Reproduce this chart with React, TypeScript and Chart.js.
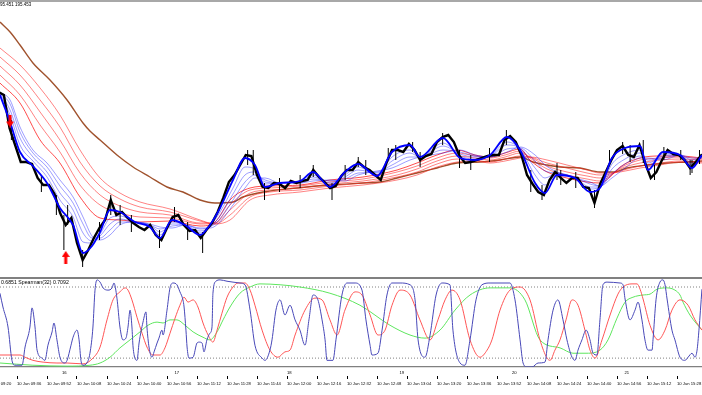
import React, { useEffect, useRef } from "react";
import { Chart, registerables } from "chart.js";

Chart.register(...registerables);

// ---------------- texts & ticks ----------------
const headerText = "95.451 195.453";
const oscLabel = "0.6851 Spearman(32) 0.7092";

const timeTickMinutes = [0, 16, 32, 48, 64, 80, 96, 112, 128, 144, 160, 176, 192, 208, 224, 240, 256, 272, 288, 304, 320, 336, 352, 368];
const timeTickLabels = [
  "10 Jun 09:20", "10 Jun 09:36", "10 Jun 09:52", "10 Jun 10:08", "10 Jun 10:24", "10 Jun 10:40",
  "10 Jun 10:56", "10 Jun 11:12", "10 Jun 11:28", "10 Jun 11:44", "10 Jun 12:00", "10 Jun 12:16",
  "10 Jun 12:32", "10 Jun 12:48", "10 Jun 13:04", "10 Jun 13:20", "10 Jun 13:36", "10 Jun 13:52",
  "10 Jun 14:08", "10 Jun 14:24", "10 Jun 14:40", "10 Jun 14:56", "10 Jun 15:12", "10 Jun 15:28",
];
const hourTickMinutes = [40, 100, 160, 220, 280, 340];
const hourTickLabels = ["16", "17", "18", "19", "20", "21"];

// ---------------- price (1-minute bars, minutes after 09:20) ----------------
const closeStartMinute = 6;
const closeStepMinutes = 3;
const closes = [
  195.540, 195.525, 195.360, 195.275, 195.190, 195.190, 195.180, 195.110, 195.075, 195.075,
  195.030, 194.935, 194.875, 194.910, 194.785, 194.700, 194.750, 194.810, 194.860, 194.900,
  195.000, 194.925, 194.940, 194.910, 194.885, 194.865, 194.850, 194.875, 194.825, 194.800,
  194.860, 194.915, 194.925, 194.875, 194.845, 194.850, 194.810, 194.850, 194.885, 194.940,
  195.010, 195.090, 195.125, 195.175, 195.225, 195.220, 195.125, 195.065, 195.060, 195.085,
  195.080, 195.060, 195.095, 195.085, 195.095, 195.100, 195.150, 195.115, 195.090, 195.060,
  195.070, 195.120, 195.150, 195.150, 195.190, 195.165, 195.150, 195.125, 195.100, 195.185,
  195.250, 195.250, 195.240, 195.280, 195.250, 195.200, 195.220, 195.230, 195.290, 195.315,
  195.325, 195.290, 195.220, 195.185, 195.190, 195.200, 195.210, 195.220, 195.225, 195.225,
  195.300, 195.320, 195.290, 195.225, 195.125, 195.080, 195.040, 195.025, 195.100, 195.140,
  195.110, 195.085, 195.110, 195.110, 195.065, 195.060, 194.985, 195.080, 195.140, 195.200,
  195.250, 195.270, 195.225, 195.215, 195.275, 195.185, 195.110, 195.140, 195.200, 195.250,
  195.230, 195.225, 195.200, 195.160, 195.190, 195.225, 195.230,
];
// [minute, low, high]
const wicks = [
  [13, 195.300, 195.400], [29, 195.040, 195.125], [37, 194.925, 195.025], [41, 194.750, 194.925],
  [43, 194.875, 194.975], [51, 194.665, 194.750], [60, 194.800, 194.890], [66, 194.925, 195.025],
  [71, 194.875, 194.975], [77, 194.840, 194.925], [92, 194.760, 194.850], [100, 194.890, 194.965],
  [107, 194.800, 194.890], [115, 194.735, 194.840], [139, 195.175, 195.250], [142, 195.125, 195.250],
  [148, 195.000, 195.085], [156, 195.040, 195.110], [167, 195.060, 195.125], [174, 195.115, 195.175],
  [184, 195.000, 195.085], [191, 195.100, 195.175], [198, 195.165, 195.215], [202, 195.125, 195.200],
  [214, 195.200, 195.260], [218, 195.200, 195.275], [227, 195.240, 195.290], [231, 195.165, 195.240],
  [243, 195.275, 195.335], [252, 195.160, 195.250], [258, 195.150, 195.225], [268, 195.190, 195.260],
  [277, 195.275, 195.350], [290, 195.040, 195.150], [296, 195.000, 195.075], [304, 195.100, 195.185],
  [306, 195.075, 195.150], [314, 195.060, 195.140], [324, 194.960, 195.050], [332, 195.175, 195.250],
  [339, 195.230, 195.290], [343, 195.190, 195.275], [350, 195.185, 195.300], [356, 195.100, 195.175],
  [361, 195.200, 195.265], [370, 195.200, 195.250], [375, 195.125, 195.200], [376, 195.135, 195.200],
  [380, 195.180, 195.250],
];

// ---------------- long moving average (brown) ----------------
const brownX = [6.9, 12.3, 17.6, 24.5, 33.6, 42.7, 51.2, 54.9, 60.3, 69.3, 77.9, 86.9, 96, 104.5, 113.6, 121.6, 131.2, 136.5, 147.2, 165.3, 182.9, 200.5, 209.6, 218.7, 229.3, 240, 250.7, 262.9, 273.6, 284.3, 291.2, 298.7, 305.6, 316.3, 326.9, 333.9, 341.3, 352, 362.7, 373.3, 381.3];
const brownY = [195.890, 195.840, 195.775, 195.685, 195.600, 195.500, 195.385, 195.345, 195.300, 195.225, 195.165, 195.115, 195.065, 195.040, 195.000, 194.985, 194.990, 195.015, 195.040, 195.060, 195.075, 195.085, 195.090, 195.110, 195.135, 195.160, 195.185, 195.190, 195.200, 195.215, 195.190, 195.175, 195.165, 195.160, 195.140, 195.140, 195.160, 195.175, 195.185, 195.190, 195.195];

// ---------------- slow ribbon (red) ----------------
const redX = [6.9, 17.6, 28.3, 38.9, 49.6, 60.3, 70.9, 81.6, 97.6, 113.6, 121.6, 129.6, 140.3, 150.9, 166.9, 182.9, 200.5, 218.7, 229.3, 240, 250.7, 260.3, 268.3, 276.3, 284.3, 289.6, 298.7, 309.3, 320, 326.9, 332.3, 337.6, 348.3, 358.9, 369.6, 381.3];
const red1 = [195.585, 195.485, 195.300, 195.185, 195.015, 194.910, 194.900, 194.890, 194.895, 194.870, 194.890, 195.000, 195.060, 195.070, 195.075, 195.100, 195.115, 195.150, 195.185, 195.225, 195.250, 195.225, 195.215, 195.235, 195.255, 195.200, 195.140, 195.110, 195.090, 195.085, 195.115, 195.165, 195.210, 195.220, 195.220, 195.210];
const red2 = [195.625, 195.525, 195.375, 195.240, 195.075, 194.975, 194.935, 194.915, 194.910, 194.880, 194.885, 194.975, 195.050, 195.060, 195.070, 195.090, 195.105, 195.140, 195.170, 195.210, 195.235, 195.220, 195.210, 195.225, 195.245, 195.210, 195.155, 195.125, 195.105, 195.095, 195.120, 195.160, 195.200, 195.210, 195.215, 195.205];
const red3 = [195.670, 195.575, 195.440, 195.300, 195.135, 195.025, 194.970, 194.940, 194.925, 194.885, 194.885, 194.950, 195.035, 195.050, 195.060, 195.080, 195.095, 195.125, 195.155, 195.195, 195.220, 195.210, 195.200, 195.215, 195.235, 195.215, 195.170, 195.140, 195.120, 195.110, 195.125, 195.155, 195.185, 195.200, 195.205, 195.200];
const red4 = [195.715, 195.625, 195.500, 195.365, 195.190, 195.070, 195.005, 194.965, 194.940, 194.895, 194.880, 194.925, 195.015, 195.040, 195.050, 195.070, 195.085, 195.115, 195.140, 195.180, 195.205, 195.200, 195.190, 195.205, 195.220, 195.215, 195.185, 195.160, 195.135, 195.125, 195.130, 195.145, 195.170, 195.185, 195.195, 195.190];
const red5 = [195.760, 195.675, 195.560, 195.425, 195.250, 195.110, 195.035, 194.990, 194.955, 194.900, 194.880, 194.900, 195.000, 195.025, 195.040, 195.060, 195.075, 195.100, 195.125, 195.165, 195.190, 195.195, 195.185, 195.195, 195.210, 195.215, 195.200, 195.175, 195.150, 195.135, 195.135, 195.140, 195.160, 195.175, 195.190, 195.185];

// ---------------- fast ribbon (blue) ----------------
const blueX = [6.9, 12.3, 17.6, 24.5, 32, 38.9, 45.9, 51.2, 56, 60.3, 65.6, 70.9, 78.9, 86.9, 92.3, 98.7, 105.6, 113.6, 118.9, 124.3, 131.2, 137.6, 142.9, 148.3, 156.3, 166.9, 173.9, 182.9, 190.9, 197.9, 208, 216, 225.6, 230.9, 243.2, 252.3, 260.3, 268.3, 277.3, 284.3, 292.3, 297.6, 304, 313.6, 321.6, 326.9, 333.3, 340.3, 348.3, 352.5, 360.5, 369.6, 376, 381.3];
const blue0 = [195.525, 195.390, 195.240, 195.170, 195.085, 194.960, 194.875, 194.735, 194.770, 194.840, 194.950, 194.940, 194.890, 194.865, 194.810, 194.900, 194.875, 194.825, 194.875, 194.960, 195.100, 195.210, 195.175, 195.065, 195.085, 195.095, 195.140, 195.065, 195.140, 195.180, 195.120, 195.240, 195.275, 195.215, 195.310, 195.210, 195.200, 195.225, 195.315, 195.250, 195.085, 195.035, 195.125, 195.110, 195.040, 195.060, 195.210, 195.260, 195.270, 195.150, 195.240, 195.225, 195.160, 195.225];
const blue1 = [195.530, 195.425, 195.275, 195.195, 195.115, 195.000, 194.915, 194.790, 194.785, 194.830, 194.910, 194.920, 194.890, 194.870, 194.825, 194.890, 194.875, 194.835, 194.870, 194.940, 195.060, 195.165, 195.155, 195.080, 195.085, 195.090, 195.125, 195.075, 195.125, 195.165, 195.125, 195.215, 195.250, 195.215, 195.285, 195.220, 195.205, 195.220, 195.290, 195.255, 195.125, 195.075, 195.130, 195.110, 195.055, 195.065, 195.180, 195.230, 195.250, 195.170, 195.230, 195.225, 195.175, 195.220];
const blue2 = [195.535, 195.450, 195.310, 195.215, 195.140, 195.035, 194.950, 194.835, 194.795, 194.820, 194.880, 194.905, 194.890, 194.875, 194.840, 194.880, 194.875, 194.845, 194.865, 194.920, 195.030, 195.125, 195.140, 195.090, 195.085, 195.090, 195.115, 195.085, 195.115, 195.150, 195.135, 195.195, 195.235, 195.215, 195.270, 195.230, 195.215, 195.220, 195.275, 195.260, 195.160, 195.110, 195.135, 195.110, 195.065, 195.065, 195.155, 195.205, 195.235, 195.185, 195.220, 195.225, 195.185, 195.215];
const blue3 = [195.535, 195.480, 195.340, 195.235, 195.165, 195.070, 194.985, 194.880, 194.810, 194.810, 194.850, 194.890, 194.890, 194.875, 194.855, 194.870, 194.875, 194.855, 194.865, 194.905, 195.000, 195.090, 195.125, 195.100, 195.085, 195.085, 195.105, 195.095, 195.105, 195.135, 195.140, 195.175, 195.215, 195.215, 195.250, 195.240, 195.220, 195.215, 195.255, 195.260, 195.195, 195.145, 195.135, 195.110, 195.080, 195.070, 195.130, 195.180, 195.220, 195.200, 195.210, 195.225, 195.200, 195.215];
const blue4 = [195.540, 195.500, 195.365, 195.250, 195.185, 195.100, 195.015, 194.915, 194.820, 194.800, 194.825, 194.875, 194.890, 194.880, 194.865, 194.860, 194.875, 194.860, 194.860, 194.890, 194.975, 195.060, 195.110, 195.110, 195.085, 195.085, 195.095, 195.100, 195.095, 195.125, 195.145, 195.160, 195.200, 195.215, 195.235, 195.250, 195.225, 195.215, 195.240, 195.265, 195.225, 195.175, 195.140, 195.110, 195.090, 195.070, 195.110, 195.160, 195.210, 195.210, 195.200, 195.225, 195.210, 195.210];

// ---------------- signal arrows [minute, price] ----------------
const sellArrows = [[12.3, 195.395]];
const buyArrows = [[42, 194.713]];

// ---------------- Spearman oscillator [minute, value] ----------------
const oscBlue = [
  [6.9, 0.66], [8.5, 0.35], [11.2, -0.10], [13.3, -0.85], [14.9, -0.96], [18.7, -0.96], [20.3, -0.55], [22.9, -0.10], [24, 0.33], [25.6, -0.10],
  [26.7, -0.62], [29.3, -0.80], [30.9, -0.85], [32.5, -0.51], [34.7, -0.21], [35.7, -0.01], [37.3, -0.39], [38.9, -0.78], [41.6, -0.91], [42.7, -0.85],
  [44.8, -0.51], [45.9, -0.33], [48, -0.17], [49.1, -0.39], [50.1, -0.85], [51.2, -0.96], [53.3, -0.91], [54.9, -0.69], [56.5, -0.10], [57.6, 0.73],
  [58.7, 0.96], [60.3, 0.91], [61.9, 0.78], [64.5, 0.73], [66.7, 0.78], [67.7, 0.89], [69.3, 0.55], [70.9, -0.10], [72.5, -0.39], [74.1, -0.35],
  [75.2, -0.10], [76.3, 0.28], [77.3, -0.10], [77.9, -0.55], [80, -0.85], [81.1, -0.46], [83.2, 0.01], [84.8, 0.24], [85.3, -0.10], [86.4, -0.55],
  [88, -0.78], [89.1, -0.66], [90.7, -0.46], [91.7, -0.35], [93.3, -0.17], [93.9, -0.28], [96, 0.28], [97.6, 0.78], [99.2, 0.89], [101.3, 0.85],
  [102.9, 0.69], [104.5, 0.51], [105.1, 0.35], [106.1, -0.17], [106.7, -0.55], [107.7, -0.80], [109.9, -0.78], [112, -0.46], [113.1, -0.44], [114.7, -0.46],
  [115.7, -0.66], [117.3, -0.39], [118.9, -0.24], [120, -0.10], [120.5, 0.66], [122.1, 0.93], [124.3, 0.96], [128, 0.93], [131.2, 0.91], [134.9, 0.89],
  [137.6, 0.85], [140.3, 0.28], [142.9, -0.51], [146.7, -0.80], [148.3, -0.85], [150.9, -0.62], [152, -0.39], [154.1, 0.28], [156.3, 0.51], [158.9, 0.17],
  [161.6, 0.39], [164.3, 0.06], [166.9, -0.17], [169.6, -0.51], [171.7, 0.06], [173.9, 0.62], [176.5, 0.51], [178.7, 0.06], [180.3, -0.39], [181.3, -0.85],
  [184.5, -0.85], [186.1, -0.39], [189.3, 0.62], [192, 0.89], [196.3, 0.89], [200, 0.73], [202.1, 0.06], [204.3, -0.51], [205.3, -0.73], [208.5, -0.69],
  [210.7, -0.17], [213.3, 0.62], [216, 0.89], [220.3, 0.89], [225.6, 0.85], [228.3, 0.51], [229.9, -0.39], [233.6, -0.78], [236.3, -0.28], [239.5, 0.62],
  [242.7, 0.89], [246.9, 0.85], [248.5, -0.17], [252.3, -0.91], [254.9, -0.96], [257.6, -0.39], [260.8, 0.51], [264, 0.85], [268.3, 0.89], [278.9, 0.89],
  [281.6, 0.51], [284.3, -0.39], [285.9, -0.91], [288, -1.0], [290.7, -1.0], [293.9, -0.91], [297.6, -0.89], [299.2, -0.39], [301.9, 0.28], [304.5, 0.51],
  [307.2, 0.06], [309.3, -0.39], [312, -0.78], [313.6, -0.85], [315.2, -0.62], [317.3, -0.39], [319.5, -0.17], [321.6, -0.39], [323.2, -0.69], [325.3, -0.73],
  [326.9, 0.06], [328.5, 0.85], [330.7, 0.91], [337.6, 0.89], [339.2, 0.85], [340.3, 0.53], [342.9, 0.06], [345.6, 0.28], [347.2, 0.46], [349.3, 0.06],
  [350.9, -0.39], [352.5, -0.62], [354.7, -0.62], [355.2, -0.39], [356.8, 0.51], [358.9, 0.91], [360.5, 0.96], [361.6, 0.85], [362.7, 0.53], [365.3, -0.17],
  [366.9, -0.39], [369.6, -0.78], [372.3, -0.85], [373.9, -0.78], [376, -0.69], [377.6, -0.78], [378.7, -0.62], [379.7, -0.17], [381.3, 0.75],
];
const oscRed = [
  [6.9, -0.73], [17.6, -0.73], [20.3, -0.78], [24.5, -0.85], [29.9, -0.89], [37.3, -0.91], [42.7, -0.91], [51.2, -0.93], [56.5, -0.80], [60.3, -0.55],
  [64, 0.06], [67.2, 0.51], [70.9, 0.69], [73.6, 0.78], [75.2, 0.73], [77.3, 0.51], [80, 0.12], [82.7, -0.24], [85.3, -0.55], [88.5, -0.73],
  [92.3, -0.73], [94.9, -0.57], [97.6, -0.24], [100.3, 0.10], [102.9, 0.39], [105.1, 0.57], [107.2, 0.46], [109.9, 0.51], [112.5, 0.35], [115.2, -0.01],
  [117.9, -0.28], [120.5, -0.44], [122.7, -0.17], [125.3, 0.21], [128, 0.57], [131.2, 0.80], [133.9, 0.89], [137.6, 0.89], [140.3, 0.73], [142.9, 0.39],
  [146.7, -0.17], [150.9, -0.62], [155.2, -0.78], [158.9, -0.66], [161.6, -0.62], [164.3, -0.28], [169.6, 0.28], [174.9, 0.55], [178.7, 0.51], [182.9, 0.06],
  [186.7, -0.28], [190.9, 0.28], [196.3, 0.69], [200, 0.62], [204.3, 0.17], [208.5, -0.28], [212.3, -0.17], [216, 0.39], [220.3, 0.73], [225.6, 0.62],
  [230.9, 0.06], [236.3, -0.39], [240.5, 0.06], [244.3, 0.51], [248, 0.73], [252.3, 0.51], [257.6, -0.39], [262.9, -0.78], [266.7, -0.62], [269.3, -0.39],
  [273.6, 0.28], [278.9, 0.73], [284.3, 0.80], [289.6, 0.51], [294.9, -0.39], [298.7, -0.80], [300.3, -0.85], [302.9, -0.62], [305.6, -0.39], [308.8, 0.06],
  [312, 0.51], [315.2, 0.39], [318.9, -0.17], [321.6, -0.62], [324.3, -0.80], [328, -0.39], [332.3, 0.17], [336.5, 0.64], [339.2, 0.80], [344, 0.87],
  [346.7, 0.87], [348.3, 0.75], [349.9, 0.53], [353.6, -0.06], [357.9, -0.39], [361.6, -0.17], [365.3, 0.28], [369.6, 0.51], [373.9, 0.39], [377.6, 0.06],
  [381.3, -0.17],
];
const oscGreen = [
  [6.9, -0.91], [24.5, -0.96], [42.7, -0.98], [54.9, -0.96], [60.3, -0.91], [65.6, -0.78], [70.9, -0.57], [76.3, -0.39], [81.6, -0.21], [85.9, -0.06],
  [90.7, 0.01], [93.9, -0.01], [97.6, 0.06], [101.3, 0.06], [105.6, -0.06], [109.9, -0.21], [115.2, -0.33], [118.9, -0.39], [122.7, -0.21], [125.9, 0.06],
  [129.6, 0.35], [134.9, 0.66], [140.3, 0.80], [145.6, 0.87], [156.3, 0.85], [166.9, 0.80], [182.9, 0.66], [198.9, 0.39], [214.9, -0.06], [225.6, -0.28],
  [233.6, -0.35], [241.6, -0.17], [249.6, 0.28], [257.6, 0.62], [268.3, 0.78], [278.9, 0.78], [286.9, 0.51], [294.9, -0.39], [305.6, -0.57], [312.5, -0.69],
  [320, -0.69], [326.9, -0.62], [331.2, -0.39], [336, 0.10], [340.3, 0.46], [344.5, 0.57], [349.9, 0.62], [353.6, 0.64], [357.3, 0.75], [362.7, 0.78],
  [366.9, 0.73], [369.6, 0.62], [371.2, 0.46], [374.9, 0.17], [381.3, -0.17],
];
const oscLevels = [0.8, -0.8];

// ---------------- view settings ----------------
const X_MIN = 104 / 15;
const X_MAX = 5720 / 15;
const P_MIN = 194.62;
const P_MAX = 195.99;
const OSC_MIN = -1.0;
const OSC_MAX = 0.98;
const FONT = "'Liberation Sans Narrow', 'Liberation Sans', Arial, sans-serif";

function pairs(xs: number[], ys: number[]) {
  return xs.map((x, i) => ({ x, y: ys[i] }));
}

function makeArrow(up: boolean): HTMLCanvasElement {
  const c = document.createElement("canvas");
  c.width = 8;
  c.height = 13;
  const ctx = c.getContext("2d")!;
  ctx.fillStyle = "#ff0000";
  ctx.beginPath();
  if (up) {
    ctx.moveTo(4, 0); ctx.lineTo(8, 6); ctx.lineTo(5.5, 6); ctx.lineTo(5.5, 13);
    ctx.lineTo(2.5, 13); ctx.lineTo(2.5, 6); ctx.lineTo(0, 6);
  } else {
    ctx.moveTo(4, 13); ctx.lineTo(8, 7); ctx.lineTo(5.5, 7); ctx.lineTo(5.5, 0);
    ctx.lineTo(2.5, 0); ctx.lineTo(2.5, 7); ctx.lineTo(0, 7);
  }
  ctx.closePath();
  ctx.fill();
  return c;
}

function textPlugin(id: string, text: string, x: number, y: number, size: number) {
  return {
    id,
    afterDraw(chart: any) {
      const ctx = chart.ctx;
      ctx.save();
      ctx.font = `${size}px ${FONT}`;
      ctx.fillStyle = "#000";
      ctx.textBaseline = "middle";
      ctx.textAlign = "left";
      ctx.fillText(text, x, y);
      ctx.restore();
    },
  };
}

function lineDs(data: any[], color: string, width: number, order: number, extra: any = {}) {
  return {
    type: "line",
    data,
    borderColor: color,
    backgroundColor: color,
    borderWidth: width,
    pointRadius: 0,
    fill: false,
    tension: 0,
    order,
    ...extra,
  };
}

export default function App() {
  const mainRef = useRef<HTMLCanvasElement>(null);
  const oscRef = useRef<HTMLCanvasElement>(null);

  useEffect(() => {
    document.body.style.margin = "0";
    const closeData = closes.map((y, i) => ({ x: closeStartMinute + closeStepMinutes * i, y }));
    const wickData: any[] = [];
    [...wicks].sort((a, b) => a[0] - b[0]).forEach(([m, lo, hi]) => {
      wickData.push({ x: m, y: lo }, { x: m, y: hi }, { x: m, y: null });
    });
    const smooth = { cubicInterpolationMode: "monotone" };
    const thinRed = "rgba(255,30,30,0.55)";
    const thinBlue = "rgba(30,30,255,0.55)";

    const mainChart = new Chart(mainRef.current!, {
      type: "line",
      data: {
        datasets: [
          lineDs(pairs(brownX, brownY), "#a0522d", 1.4, 20, smooth),
          lineDs(pairs(redX, red5), thinRed, 1, 19, smooth),
          lineDs(pairs(redX, red4), thinRed, 1, 18, smooth),
          lineDs(pairs(redX, red3), thinRed, 1, 17, smooth),
          lineDs(pairs(redX, red2), thinRed, 1, 16, smooth),
          lineDs(pairs(redX, red1), "rgba(255,0,0,0.7)", 1, 15, smooth),
          lineDs(pairs(blueX, blue4), thinBlue, 0.8, 14, smooth),
          lineDs(pairs(blueX, blue3), thinBlue, 0.8, 13, smooth),
          lineDs(pairs(blueX, blue2), thinBlue, 0.8, 12, smooth),
          lineDs(pairs(blueX, blue1), thinBlue, 0.8, 11, smooth),
          lineDs(wickData, "#000000", 1, 10, { spanGaps: false }),
          lineDs(closeData, "#000000", 2.4, 9),
          lineDs(pairs(blueX, blue0), "#0000ff", 1.8, 8, smooth),
          {
            type: "scatter",
            data: sellArrows.map(([x, y]) => ({ x, y })),
            pointStyle: makeArrow(false),
            pointRadius: 4,
            order: 1,
          },
          {
            type: "scatter",
            data: buyArrows.map(([x, y]) => ({ x, y })),
            pointStyle: makeArrow(true),
            pointRadius: 4,
            order: 1,
          },
        ] as any,
      },
      options: {
        animation: false,
        responsive: false,
        devicePixelRatio: 1,
        events: [],
        layout: { padding: { top: 2, bottom: 1, left: 0, right: 0 }, autoPadding: false } as any,
        plugins: { legend: { display: false }, tooltip: { enabled: false } },
        scales: {
          x: { type: "linear", min: X_MIN, max: X_MAX, display: false, bounds: "data" },
          y: { type: "linear", min: P_MIN, max: P_MAX, display: false, bounds: "data" },
        },
      } as any,
      plugins: [textPlugin("hdr", headerText, 0, 5, 4.5)],
    });

    const levelDs = oscLevels.map((lv) =>
      lineDs([{ x: X_MIN, y: lv }, { x: X_MAX, y: lv }], "#808080", 1, 10, { borderDash: [1, 2] })
    );

    const oscChart = new Chart(oscRef.current!, {
      type: "line",
      data: {
        datasets: [
          ...levelDs,
          lineDs(oscGreen.map(([x, y]) => ({ x, y })), "#5ee65e", 1, 5, smooth),
          lineDs(oscRed.map(([x, y]) => ({ x, y })), "#ff5555", 1, 4, smooth),
          lineDs(oscBlue.map(([x, y]) => ({ x, y })), "#4848b8", 1, 3, smooth),
        ] as any,
      },
      options: {
        animation: false,
        responsive: false,
        devicePixelRatio: 1,
        events: [],
        layout: { padding: 0, autoPadding: false } as any,
        plugins: { legend: { display: false }, tooltip: { enabled: false } },
        scales: {
          xh: {
            type: "linear",
            position: "bottom",
            weight: 0,
            min: X_MIN,
            max: X_MAX,
            bounds: "data",
            afterBuildTicks: (s: any) => {
              s.ticks = hourTickMinutes.map((v) => ({ value: v }));
            },
            afterFit: (s: any) => {
              s.height = 9;
              s.paddingLeft = 0;
              s.paddingRight = 0;
            },
            ticks: {
              autoSkip: false,
              maxRotation: 0,
              minRotation: 0,
              align: "start",
              padding: 3,
              color: "#000",
              font: { family: FONT, size: 4.2 },
              callback: (_v: any, i: number) => hourTickLabels[i],
            },
            grid: { display: false, drawTicks: false, tickLength: 0 },
            border: { display: true, color: "#808080", width: 1.2 },
          },
          x: {
            type: "linear",
            position: "bottom",
            weight: 1,
            min: X_MIN,
            max: X_MAX,
            bounds: "data",
            afterBuildTicks: (s: any) => {
              s.ticks = timeTickMinutes.map((v) => ({ value: v }));
            },
            afterFit: (s: any) => {
              s.height = 19;
              s.paddingLeft = 0;
              s.paddingRight = 0;
            },
            ticks: {
              autoSkip: false,
              maxRotation: 0,
              minRotation: 0,
              align: "start",
              padding: 2,
              color: "#000",
              font: { family: FONT, size: 4.2 },
              callback: (_v: any, i: number) => timeTickLabels[i],
            },
            grid: { display: true, drawOnChartArea: false, drawTicks: true, tickLength: 3, color: "#000", lineWidth: 1 },
            border: { display: false },
          },
          y: { type: "linear", min: OSC_MIN, max: OSC_MAX, display: false, bounds: "data" },
        },
      } as any,
      plugins: [textPlugin("osclbl", oscLabel, 1, 4, 5.2)],
    });

    return () => {
      mainChart.destroy();
      oscChart.destroy();
    };
  }, []);

  return (
    <div style={{ position: "relative", width: 702, height: 395, overflow: "hidden", background: "#fff" }}>
      <div style={{ position: "absolute", left: 0, top: 0, width: 702, height: 2, background: "#a8a8a8" }} />
      <canvas ref={mainRef} width={702} height={277} style={{ position: "absolute", left: 0, top: 0 }} />
      <div style={{ position: "absolute", left: 0, top: 277, width: 702, height: 2, background: "#808080" }} />
      <canvas ref={oscRef} width={702} height={116} style={{ position: "absolute", left: 0, top: 279 }} />
    </div>
  );
}
